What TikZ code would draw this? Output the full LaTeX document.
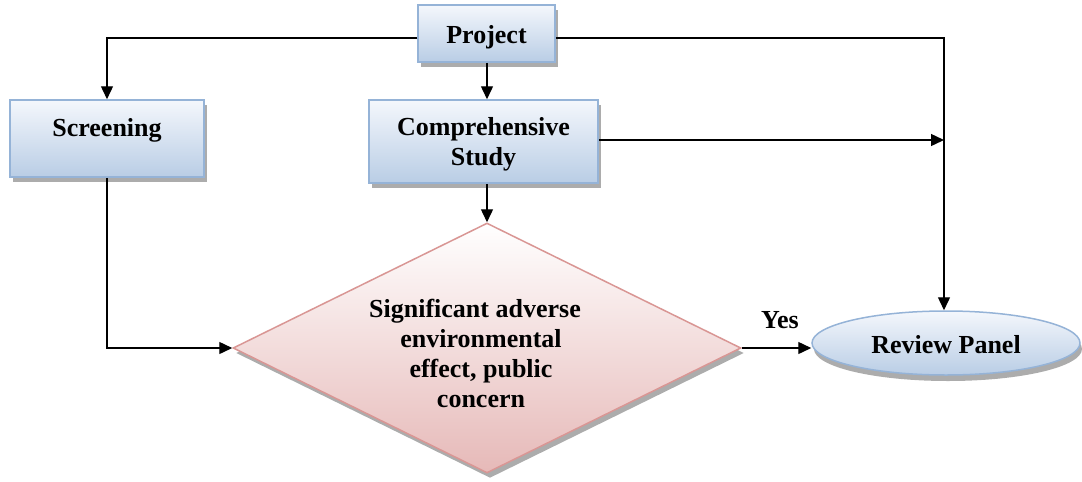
\documentclass[tikz,border=0pt]{standalone}
\usepackage{fontspec}
\setmainfont{Liberation Serif}
\usetikzlibrary{shapes.geometric,shadows,arrows.meta}
\definecolor{bluebord}{HTML}{95B3D7}
\definecolor{bluetop}{HTML}{F4F7FC}
\definecolor{bluebot}{HTML}{B9CDE5}
\definecolor{redbord}{HTML}{D99694}
\definecolor{redtop}{HTML}{FFFFFF}
\definecolor{redbot}{HTML}{E6B9B8}
\tikzset{
  boxstyle/.style={rectangle, draw=bluebord, line width=1.5pt, top color=bluetop, bottom color=bluebot,
    drop shadow={shadow xshift=3pt, shadow yshift=-5pt, fill=gray!65, opacity=1},
    font=\fontsize{26}{30}\selectfont\bfseries, align=center, inner sep=0pt},
  diastyle/.style={diamond, draw=redbord, line width=1.5pt, top color=redtop, bottom color=redbot,
    drop shadow={shadow xshift=3pt, shadow yshift=-5pt, fill=gray!65, opacity=1},
    font=\fontsize{26}{30}\selectfont\bfseries, align=center, inner sep=0pt},
  ellstyle/.style={ellipse, draw=bluebord, line width=1.5pt, top color=bluetop, bottom color=bluebot,
    drop shadow={shadow xshift=2pt, shadow yshift=-6pt, fill=gray!65, opacity=1},
    font=\fontsize{26}{30}\selectfont\bfseries, inner sep=0pt},
  conn/.style={line width=1.4pt, -{Triangle[length=13pt,width=12pt]}},
  lbl/.style={font=\fontsize{26}{30}\selectfont\bfseries}
}
\begin{document}
\begin{tikzpicture}[x=1pt,y=-1pt]
\useasboundingbox (0,0) rectangle (1082,482);
\node[boxstyle, minimum width=137pt, minimum height=57pt] (proj) at (486.5,33.5) {\raisebox{-9.5pt}[0pt][0pt]{Project}};
\node[boxstyle, minimum width=194pt, minimum height=77pt] (scr) at (107,138.5) {\raisebox{2.5pt}[0pt][0pt]{Screening}};
\node[boxstyle, minimum width=229pt, minimum height=83pt] (comp) at (483.5,141.5) {\raisebox{-23.5pt}[0pt][0pt]{\begin{tabular}[b]{@{}c@{}}Comprehensive\\Study\end{tabular}}};
\node[diastyle, minimum width=508pt, minimum height=250pt] (dia) at (487,348) {};
\node[lbl, align=center] (diatext) at (481,353) {Significant adverse\hspace*{12pt}\\environmental\\effect, public\\concern};
\node[ellstyle, minimum width=268pt, minimum height=64pt] (rp) at (946,343) {\raisebox{-10pt}[0pt][0pt]{Review Panel}};
\node[lbl] (yes) at (780,320) {Yes};
\coordinate (pl) at (107,38);
\coordinate (pr) at (944,38);
\draw[conn] (proj.west |- pl) -- (pl) -- (scr.north);
\draw[conn] (proj.east |- pr) -- (pr) -- (pr |- rp.north);
\draw[conn] (proj.south -| 487,0) -- (comp.north -| 487,0);
\draw[conn] (comp.east |- 0,140) -- (944,140);
\draw[conn] (comp.south -| 487,0) -- (dia.north);
\draw[conn] (scr.south) -- (scr.south |- dia.west) -- (dia.west);
\draw[conn] (dia.east) -- (dia.east -| rp.west);
\end{tikzpicture}
\end{document}
